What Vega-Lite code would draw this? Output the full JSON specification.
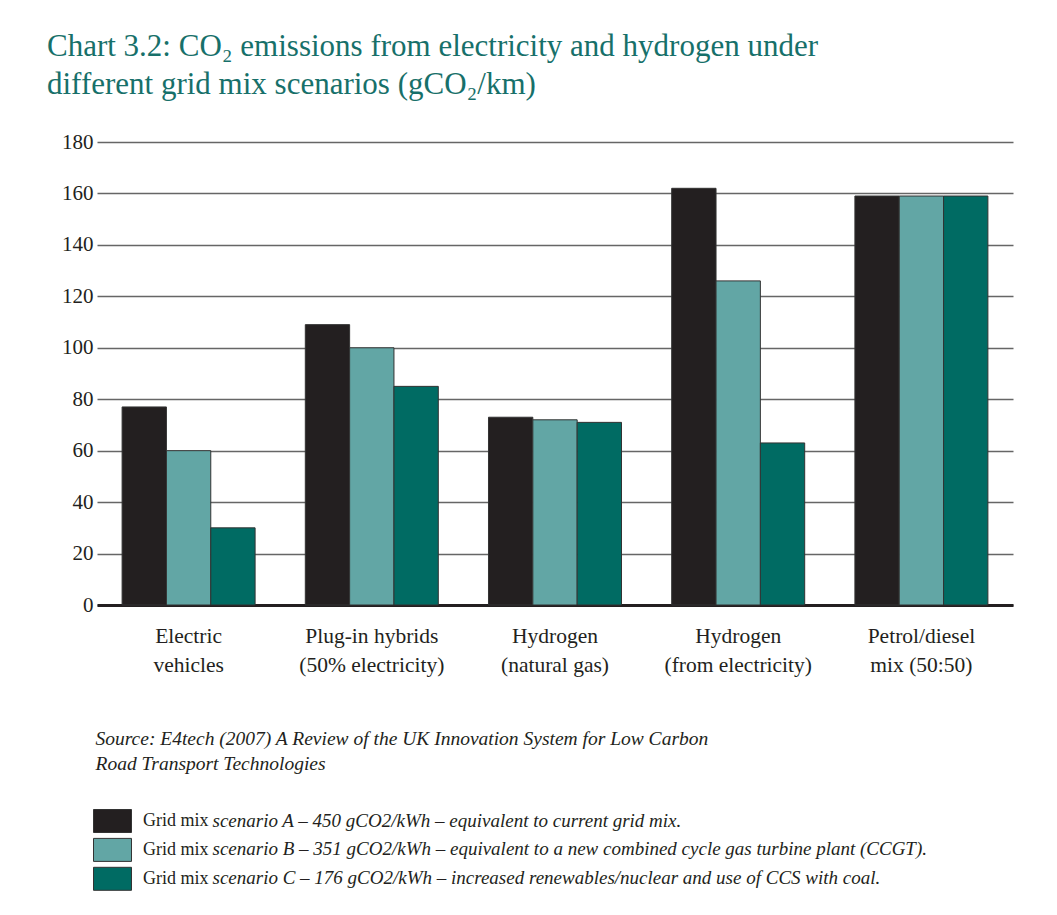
{
  "$schema": "https://vega.github.io/schema/vega-lite/v6.json",
  "width": 916,
  "height": 463,
  "autosize": {"type": "none"},
  "padding": {"left": 97, "top": 142, "right": 44, "bottom": 310},
  "background": "white",
  "title": {
    "text": ["Chart 3.2: CO₂ emissions from electricity and hydrogen under", "different grid mix scenarios (gCO₂/km)"],
    "anchor": "start",
    "frame": "group",
    "dx": -50,
    "offset": 30,
    "font": "Liberation Serif",
    "fontSize": 31,
    "fontWeight": "normal",
    "color": "#17706a",
    "lineHeight": 38
  },
  "config": {
    "view": {"stroke": null},
    "font": "Liberation Serif"
  },
  "layer": [
    {
      "data": {
        "values": [
          {"category": "Electric vehicles", "scenario": "A", "value": 77},
          {"category": "Electric vehicles", "scenario": "B", "value": 60},
          {"category": "Electric vehicles", "scenario": "C", "value": 30},
          {"category": "Plug-in hybrids (50% electricity)", "scenario": "A", "value": 109},
          {"category": "Plug-in hybrids (50% electricity)", "scenario": "B", "value": 100},
          {"category": "Plug-in hybrids (50% electricity)", "scenario": "C", "value": 85},
          {"category": "Hydrogen (natural gas)", "scenario": "A", "value": 73},
          {"category": "Hydrogen (natural gas)", "scenario": "B", "value": 72},
          {"category": "Hydrogen (natural gas)", "scenario": "C", "value": 71},
          {"category": "Hydrogen (from electricity)", "scenario": "A", "value": 162},
          {"category": "Hydrogen (from electricity)", "scenario": "B", "value": 126},
          {"category": "Hydrogen (from electricity)", "scenario": "C", "value": 63},
          {"category": "Petrol/diesel mix (50:50)", "scenario": "A", "value": 159},
          {"category": "Petrol/diesel mix (50:50)", "scenario": "B", "value": 159},
          {"category": "Petrol/diesel mix (50:50)", "scenario": "C", "value": 159}
        ]
      },
      "mark": {"type": "bar", "stroke": "#333333", "strokeWidth": 1},
      "encoding": {
        "x": {
          "field": "category",
          "type": "nominal",
          "sort": null,
          "scale": {"paddingInner": 0.274, "paddingOuter": 0.137},
          "axis": {
            "labelAngle": 0,
            "ticks": false,
            "labelPadding": 20,
            "labelFontSize": 21.5,
            "labelColor": "#231f20",
            "labelLineHeight": 29,
            "labelLimit": 300,
            "labelExpr": "datum.value == 'Electric vehicles' ? ['Electric', 'vehicles'] : datum.value == 'Plug-in hybrids (50% electricity)' ? ['Plug-in hybrids', '(50% electricity)'] : datum.value == 'Hydrogen (natural gas)' ? ['Hydrogen', '(natural gas)'] : datum.value == 'Hydrogen (from electricity)' ? ['Hydrogen', '(from electricity)'] : ['Petrol/diesel', 'mix (50:50)']",
            "domainColor": "#231f20",
            "domainWidth": 3,
            "title": ["Source: E4tech (2007) A Review of the UK Innovation System for Low Carbon", "Road Transport Technologies"],
            "titleFontStyle": "italic",
            "titleFontWeight": "normal",
            "titleFontSize": 19.5,
            "titleColor": "#231f20",
            "titleAlign": "left",
            "titleBaseline": "alphabetic",
            "titleX": -2,
            "titleY": 139,
            "titleLineHeight": 25
          }
        },
        "xOffset": {"field": "scenario", "type": "nominal", "scale": {"paddingInner": 0, "paddingOuter": 0}},
        "y": {
          "field": "value",
          "type": "quantitative",
          "scale": {"domain": [0, 180], "nice": false},
          "axis": {
            "values": [0, 20, 40, 60, 80, 100, 120, 140, 160, 180],
            "title": null,
            "domain": false,
            "ticks": false,
            "labelPadding": 4,
            "labelFontSize": 21,
            "labelColor": "#231f20",
            "gridColor": "#666666",
            "gridWidth": 1.5,
            "gridOpacity": 1
          }
        },
        "color": {
          "field": "scenario",
          "type": "nominal",
          "scale": {"domain": ["A", "B", "C"], "range": ["#231f20", "#62a6a5", "#006b63"]},
          "legend": {
            "orient": "none",
            "legendX": 3.5,
            "legendY": 667,
            "direction": "vertical",
            "title": null,
            "padding": 0,
            "symbolType": "M-1.652,-1H1.652V1H-1.652Z",
            "symbolSize": 529,
            "symbolStrokeColor": "#333333",
            "symbolStrokeWidth": 1,
            "rowPadding": 0.9,
            "labelOffset": 18.5,
            "labelFontSize": 18,
            "labelColor": "#231f20",
            "labelLimit": 900,
            "labelExpr": "'Grid mix'"
          }
        }
      }
    },
    {
      "data": {
        "values": [
          {"desc": "scenario A – 450 gCO2/kWh – equivalent to current grid mix."},
          {"desc": "scenario B – 351 gCO2/kWh – equivalent to a new combined cycle gas turbine plant (CCGT)."},
          {"desc": "scenario C – 176 gCO2/kWh – increased renewables/nuclear and use of CCS with coal."}
        ]
      },
      "mark": {"type": "point", "opacity": 0, "size": 529, "filled": true},
      "encoding": {
        "shape": {
          "field": "desc",
          "type": "nominal",
          "legend": {
            "orient": "none",
            "legendX": 3.5,
            "legendY": 667,
            "direction": "vertical",
            "title": null,
            "padding": 0,
            "symbolSize": 529,
            "symbolOpacity": 0,
            "symbolStrokeWidth": 0,
            "rowPadding": 5.7,
            "labelOffset": 89,
            "labelFontSize": 19,
            "labelFontStyle": "italic",
            "labelColor": "#231f20",
            "labelLimit": 900
          }
        }
      }
    }
  ]
}
